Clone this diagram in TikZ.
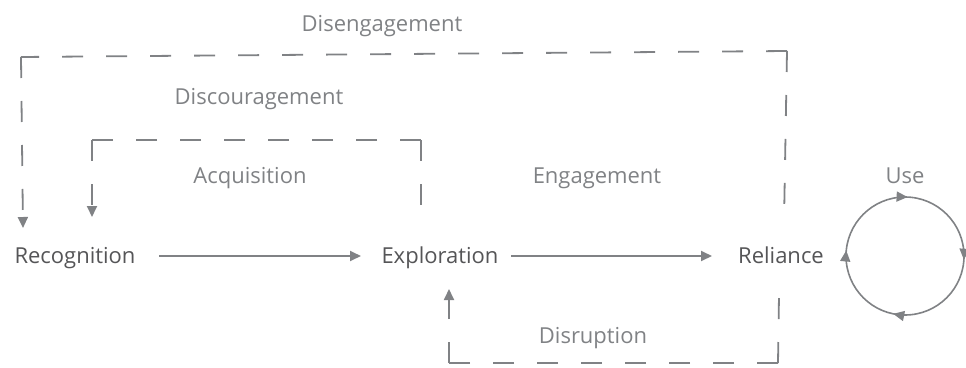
\documentclass[tikz,border=0pt]{standalone}
\usepackage{fontspec}
\setmainfont{Open Sans}
\usetikzlibrary{arrows.meta,decorations.markings}
\definecolor{inkdark}{HTML}{555557}
\definecolor{inklight}{HTML}{808285}
\tikzset{cycletip/.tip={Triangle[length=11pt,width=10pt]}}
\begin{document}
\begin{tikzpicture}[x=1pt,y=-1pt,
  stage/.style={font=\fontsize{22}{25}\selectfont, text=inkdark, inner sep=0pt, anchor=base},
  looplabel/.style={font=\fontsize{22}{25}\selectfont, text=inklight, inner sep=0pt, anchor=base},
  flow/.style={draw=inklight, line width=1.8pt, -cycletip},
  leg/.style={draw=inklight, line width=1.8pt, dash pattern=on 21pt off 23pt},
  legtip/.style={leg, -cycletip}
]
\useasboundingbox (0,0) rectangle (966,367);

% stages of the main flow
\node[stage] (recog) at (75,263) {Recognition};
\node[stage] (explo) at (440,263) {Exploration};
\node[stage] (relia) at (781,263) {Reliance};

% forward arrows
\coordinate (a1s) at (159,256); \coordinate (a1e) at (361,256);
\coordinate (a2s) at (511,256); \coordinate (a2e) at (712,256);
\draw[flow] (a1s) -- (a1e);
\draw[flow] (a2s) -- (a2e);

% loop labels
\node[looplabel] (ldiseng) at (382,31) {Disengagement};
\node[looplabel] (ldisc)   at (259,104) {Discouragement};
\node[looplabel] (lacq)    at (250,183) {Acquisition};
\node[looplabel] (leng)    at (597,183) {Engagement};
\node[looplabel] (ldisr)   at (593,343) {Disruption};
\node[looplabel] (luse)    at (905,183) {Use};

% feedback loops: each leg is dashed outward from its corner,
% so the corners show as solid L joints

% disengagement: back from reliance to recognition
\coordinate (d1) at (784,222); \coordinate (d2) at (787,51);
\coordinate (d3) at (21,57);   \coordinate (d4) at (23,228);
\draw[leg] (d2) -- (d1);
\draw[leg] (d2) -- (d3);
\draw[legtip] (d3) -- (d4);

% discouragement: back from exploration to recognition
\coordinate (c1) at (421,209); \coordinate (c2) at (421,140);
\coordinate (c3) at (92,140);  \coordinate (c4) at (92,217);
\draw[leg] (c2) -- (c1);
\draw[leg] (c2) -- (c3);
\draw[legtip] (c3) -- (c4);

% disruption: back from reliance to exploration
\coordinate (r1) at (779,295); \coordinate (r2) at (778,363);
\coordinate (r3) at (449,363); \coordinate (r4) at (449,289);
\draw[leg] (r2) -- (r1);
\draw[leg] (r2) -- (r3);
\draw[legtip] (r3) -- (r4);

% use cycle, running clockwise
\coordinate (ucen) at (905,256);
\draw[draw=inklight, line width=1.6pt,
  decoration={markings,
    mark=at position 0.010 with {\arrow[inklight]{cycletip}},
    mark=at position 0.282 with {\arrow[inklight]{cycletip}},
    mark=at position 0.515 with {\arrow[inklight]{cycletip}},
    mark=at position 0.757 with {\arrow[inklight]{cycletip}}},
  postaction={decorate}]
  (ucen) ++(0:59) arc[start angle=0, end angle=360, radius=59];
\end{tikzpicture}
\end{document}
